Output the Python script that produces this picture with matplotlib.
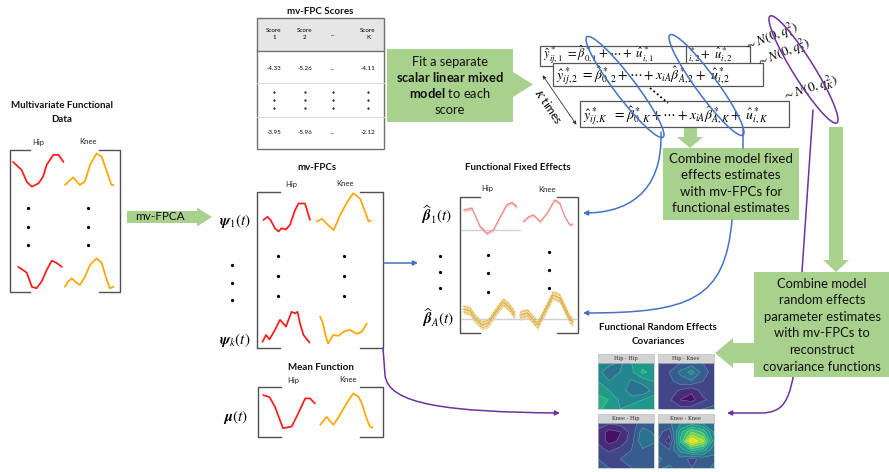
import numpy as np
import matplotlib
matplotlib.use("Agg")
import matplotlib.pyplot as plt
from matplotlib.patches import Polygon, Rectangle, Ellipse, FancyArrowPatch
from matplotlib.path import Path

plt.rcParams['font.family'] = ['Lato', 'DejaVu Sans']
plt.rcParams['mathtext.fontset'] = 'stix'
plt.rcParams['mathtext.bf'] = 'Lato:bold'
plt.rcParams['mathtext.rm'] = 'Lato'
plt.rcParams['mathtext.it'] = 'Lato:italic'

W, H = 889, 472

# ---- curve data (t in % of cell width, v in % of cell height) ----
data_hip1_t = [0, 10, 17, 27, 37, 50, 59, 66, 79, 89, 99]
data_hip1_v = [76, 63, 54, 22, 9, 18, 36, 68, 95, 95, 76]
data_knee1_t = [2, 12, 18, 31, 41, 51, 64, 74, 84, 93, 97]
data_knee1_v = [8, 21, 28, 8, 17, 61, 91, 82, 43, 8, 8]
data_hipn_t = [10, 20, 27, 37, 46, 56, 66, 76, 86, 96]
data_hipn_v = [68, 59, 52, 14, 10, 28, 59, 85, 78, 68]
data_kneen_t = [2, 8, 15, 22, 31, 41, 51, 64, 74, 84, 90, 97]
data_kneen_v = [14, 28, 37, 28, 19, 41, 73, 91, 78, 32, 10, 14]

psi1_hip_t = [3, 11, 17, 26, 33, 39, 48, 56, 66, 73, 86, 96]
psi1_hip_v = [43, 52, 43, 19, 10, 19, 16, 29, 71, 90, 90, 43]
psi1_knee_t = [3, 12, 23, 33, 44, 55, 67, 79, 88, 94, 98]
psi1_knee_v = [30, 36, 22, 11, 44, 70, 93, 81, 52, 30, 32]
psik_hip_t = [1, 8, 15, 26, 36, 48, 59, 66, 71, 76, 83, 95]
psik_hip_v = [8, 25, 14, 38, 63, 46, 83, 79, 83, 54, 25, 6]
psik_knee_t = [9, 14, 19, 23, 32, 41, 50, 61, 73, 82, 91]
psik_knee_v = [71, 54, 21, 4, 25, 23, 33, 38, 28, 33, 54]

mean_hip_t = [2, 14, 24, 33, 39, 55, 67, 80, 89, 98]
mean_hip_v = [88, 83, 60, 29, 9, 13, 44, 80, 80, 68]
mean_knee_t = [4, 15, 27, 35, 50, 62, 71, 77, 85, 91, 96]
mean_knee_v = [17, 36, 17, 33, 68, 92, 84, 68, 33, 13, 10]

beta1_hip_t = [3, 17, 31, 43, 54, 66, 77, 86, 94]
beta1_hip_v = [68, 73, 25, 7, 16, 51, 82, 88, 77]
beta1_knee_t = [6, 15, 24, 36, 48, 62, 71, 80, 89, 94]
beta1_knee_v = [35, 47, 51, 35, 55, 88, 80, 47, 27, 29]
betaA_hip_t = [2, 14, 22, 34, 45, 60, 71, 81, 91]
betaA_hip_v = [62, 57, 38, 19, 24, 59, 81, 68, 46]
betaA_knee_t = [3, 16, 24, 34, 50, 60, 72, 90, 95]
betaA_knee_v = [40, 45, 33, 17, 60, 88, 81, 29, 24]
beta1_hip_zero = 16
betaA_hip_zero = 35
betaA_knee_zero = 31

# ---- score table ----
score_header = ['Score\n1', 'Score\n2', '...', 'Score\nK']
score_first = ['-4.33', '-5.26', '...', '-4.11']
score_last = ['-3.95', '-5.96', '...', '-2.12']

# ---- covariance surfaces (rows top -> bottom) ----
cov_hip_hip = [[0.50, 0.45, 0.40, 0.50, 0.55, 0.50],
               [0.45, 0.35, 0.42, 0.48, 0.60, 0.55],
               [0.50, 0.42, 0.48, 0.40, 0.45, 0.50],
               [0.55, 0.50, 0.45, 0.38, 0.35, 0.45],
               [0.62, 0.58, 0.48, 0.45, 0.50, 0.55],
               [0.60, 0.55, 0.50, 0.55, 0.58, 0.50]]
cov_hip_knee = [[0.22, 0.20, 0.25, 0.28, 0.25, 0.22],
                [0.20, 0.25, 0.35, 0.45, 0.30, 0.20],
                [0.18, 0.22, 0.30, 0.32, 0.25, 0.18],
                [0.20, 0.22, 0.15, 0.10, 0.20, 0.22],
                [0.22, 0.18, 0.08, 0.05, 0.15, 0.20],
                [0.25, 0.22, 0.20, 0.22, 0.25, 0.28]]
cov_knee_hip = [[0.20, 0.18, 0.20, 0.22, 0.28, 0.30],
                [0.15, 0.05, 0.08, 0.20, 0.38, 0.32],
                [0.15, 0.05, 0.10, 0.22, 0.40, 0.35],
                [0.20, 0.15, 0.20, 0.25, 0.32, 0.28],
                [0.25, 0.22, 0.25, 0.28, 0.30, 0.25],
                [0.28, 0.25, 0.22, 0.25, 0.28, 0.30]]
cov_knee_knee = [[0.30, 0.32, 0.40, 0.45, 0.40, 0.32],
                 [0.28, 0.20, 0.55, 0.75, 0.65, 0.40],
                 [0.25, 0.12, 0.60, 1.00, 0.85, 0.45],
                 [0.30, 0.25, 0.45, 0.60, 0.55, 0.35],
                 [0.35, 0.30, 0.30, 0.22, 0.28, 0.32],
                 [0.32, 0.35, 0.30, 0.25, 0.30, 0.35]]
cov_titles = ['Hip - Hip', 'Hip - Knee', 'Knee - Hip', 'Knee - Knee']

GREEN = '#a9d18e'
BLUE = '#4472c4'
PURPLE = '#7030a0'
RED = '#ff1a1a'
ORANGE = '#ffa500'
BRK = '#505050'

fig = plt.figure(figsize=(W / 100, H / 100), dpi=100)
ax = fig.add_axes([0, 0, 1, 1])
ax.set_xlim(0, W)
ax.set_ylim(H, 0)
ax.axis('off')


def cell_axes(x0, x1, y0, y1):
    a = fig.add_axes([x0 / W, 1 - y1 / H, (x1 - x0) / W, (y1 - y0) / H])
    a.set_xlim(0, 100)
    a.set_ylim(0, 100)
    a.axis('off')
    return a


def curve(box, t, v, color, lw=1.25):
    a = cell_axes(*box)
    a.plot(t, v, color=color, lw=lw, solid_joinstyle='round', solid_capstyle='round', clip_on=False)
    return a


def band(box, t, v, fill, line, half, zero=None, dashed=False):
    a = cell_axes(*box)
    v = np.array(v, dtype=float)
    if zero is not None:
        a.axhline(zero, color='#d0d0d0', lw=1.0)
    a.fill_between(t, v - half, v + half, color=fill, alpha=0.55, lw=0)
    a.plot(t, v, color=line, lw=0.7)
    if dashed:
        a.plot(t, v - half * 0.55, color=line, lw=0.5, ls='--')
        a.plot(t, v + half * 0.55, color=line, lw=0.5, ls='--')
    for c in a.collections + a.lines:
        c.set_clip_on(False)
    return a


def bracket(x, y0, y1, serif):
    ax.plot([x + serif, x, x, x + serif], [y0, y0, y1, y1], color=BRK, lw=1.0,
            solid_joinstyle='round')


def dots(x, ys, size=1.8):
    ax.scatter([x] * len(ys), ys, s=size, color='black', zorder=5)


def poly(pts, color=GREEN, z=2):
    ax.add_patch(Polygon(pts, closed=True, facecolor=color, edgecolor='none', zorder=z))


def curved(verts, codes, color, z=9):
    p = FancyArrowPatch(path=Path(verts, codes), arrowstyle='-|>', mutation_scale=7,
                        color=color, lw=1.1, zorder=z, shrinkA=0, shrinkB=0)
    ax.add_patch(p)


title_kw = dict(ha='center', va='center', fontsize=7, fontweight='bold', color='#111111')
lab_kw = dict(ha='center', va='center', fontsize=5.5, color='#222222')

# ---- Multivariate functional data ----
ax.text(62, 105, 'Multivariate Functional', **title_kw)
ax.text(62, 120, 'Data', **title_kw)
ax.text(38, 143, 'Hip', **lab_kw)
ax.text(88, 142, 'Knee', **lab_kw)
bracket(10, 150, 292, 20)
bracket(120, 150, 292, -21)
curve((13, 64, 153, 190), data_hip1_t, data_hip1_v, RED)
curve((64, 115, 150, 188), data_knee1_t, data_knee1_v, ORANGE)
curve((13, 64, 255, 292), data_hipn_t, data_hipn_v, RED)
curve((64, 115, 255, 292), data_kneen_t, data_kneen_v, ORANGE)
for xx in (28, 88):
    dots(xx, [208, 227, 245])

# mv-FPCA arrow
poly([(127, 211), (197, 211), (197, 207.5), (212, 217), (197, 226.5), (197, 223), (127, 223)])
ax.text(160, 217, 'mv-FPCA', ha='center', va='center', fontsize=8.5, color='#111111')

# ---- mv-FPCs ----
ax.text(317, 168, 'mv-FPCs', **title_kw)
ax.text(291, 185, 'Hip', **lab_kw)
ax.text(345, 183, 'Knee', **lab_kw)
bracket(257, 192, 348, 23)
bracket(383, 192, 348, -23)
ax.text(235, 221, r'$\boldsymbol{\psi}_1(t)$', ha='center', va='center', fontsize=11)
ax.text(235, 340, r'$\boldsymbol{\psi}_k(t)$', ha='center', va='center', fontsize=11)
dots(232, [265, 283, 300])
dots(278, [256, 276, 296])
dots(344, [256, 276, 296])
curve((262, 312, 200, 235), psi1_hip_t, psi1_hip_v, RED)
curve((315, 372, 190, 235), psi1_knee_t, psi1_knee_v, ORANGE)
curve((262, 312, 305, 345), psik_hip_t, psik_hip_v, RED)
curve((315, 372, 305, 345), psik_knee_t, psik_knee_v, ORANGE)

# ---- Mean function ----
ax.text(321, 368, 'Mean Function', **title_kw)
ax.text(293, 381, 'Hip', **lab_kw)
ax.text(348, 380, 'Knee', **lab_kw)
bracket(258, 387, 437, 23)
bracket(383, 387, 437, -23)
ax.text(235, 417, r'$\boldsymbol{\mu}(t)$', ha='center', va='center', fontsize=11)
curve((262, 316, 390, 432), mean_hip_t, mean_hip_v, RED)
curve((318, 375, 390, 432), mean_knee_t, mean_knee_v, ORANGE)

# ---- score table ----
ax.text(320, 11, 'mv-FPC Scores', **title_kw)
ax.add_patch(Rectangle((257, 18), 127, 33, facecolor='#e7e6e6', edgecolor='none', zorder=1))
ax.add_patch(Rectangle((257, 18), 127, 131, facecolor='none', edgecolor='#707070', lw=1.0, zorder=3))
ax.plot([257, 384], [51, 51], color='#707070', lw=1.0, zorder=3)
for yy in (83, 117):
    ax.plot([257, 384], [yy, yy], color='#d8d8d8', lw=0.7, zorder=3)
col_x = [274, 305, 333, 368]
for xx, hd, a, b in zip(col_x, score_header, score_first, score_last):
    ax.text(xx, 34, hd, ha='center', va='center', fontsize=4.5, linespacing=1.3)
    ax.text(xx, 68, a, ha='center', va='center', fontsize=4.5)
    ax.text(xx, 133, b, ha='center', va='center', fontsize=4.5)
    dots(xx, [92, 100, 108], size=0.3)

# ---- fit mixed model arrow ----
poly([(387, 49), (513, 49), (513, 72), (533, 84.5), (513, 97), (513, 122), (387, 122)])
fit_kw = dict(ha='center', va='center', fontsize=9.3, color='#111111')
ax.text(450, 62, 'Fit a separate', **fit_kw)
ax.text(450, 77, r'$\mathbf{scalar\ linear\ mixed}$', math_fontfamily='custom', **fit_kw)
ax.text(450, 93, r'$\mathbf{model}$ to each', math_fontfamily='custom', **fit_kw)
ax.text(450, 110, 'score', **fit_kw)

# ---- equations ----
eq_kw = dict(ha='left', va='baseline', fontsize=10)
ax.add_patch(Rectangle((540, 46), 210, 20, facecolor='white', edgecolor='#555555', lw=0.9, zorder=3))
ax.plot([686, 686], [46, 66], color='#555555', lw=0.9, zorder=3)
ax.text(543, 58, r'$\hat{y}^*_{ij,1}\ =\hat{\beta}^*_{0,1}+\cdots+\ \hat{u}^*_{i,1}$', zorder=4,
        ha='left', va='baseline', fontsize=9)
ax.text(688, 58, r'$^*_{i,2}+\ \hat{u}^*_{i,2}$', zorder=4, ha='left', va='baseline', fontsize=9)
ax.add_patch(Rectangle((553, 63), 210, 23, facecolor='white', edgecolor='#555555', lw=0.9, zorder=5))
ax.text(556, 79, r'$\hat{y}^*_{ij,2}\ =\hat{\beta}^*_{0,2}+\cdots+x_{iA}\hat{\beta}^*_{A,2}+\ \hat{u}^*_{i,2}$',
        zorder=6, **eq_kw)
ax.add_patch(Rectangle((580, 101), 209, 26, facecolor='white', edgecolor='#555555', lw=0.9, zorder=5))
ax.text(583, 119, r'$\hat{y}^*_{ij,K}\ \ =\hat{\beta}^*_{0,K}+\cdots+x_{iA}\hat{\beta}^*_{A,K}+\ \hat{u}^*_{i,K}$',
        zorder=6, **eq_kw)
nk = dict(ha='left', va='bottom', fontsize=9.5, rotation_mode='anchor', zorder=7)
ax.text(749, 56, r'$\sim N(0,q_1^2)$', rotation=22, **nk)
ax.text(761, 72, r'$\sim N(0,q_2^2)$', rotation=22, **nk)
ax.text(786, 106, r'$\sim N(0,q_K^2)$', rotation=18, **nk)
ax.plot([650, 668], [88, 103], color='black', lw=1.3, ls=(0, (1, 1.5)), zorder=6)
ax.annotate('', xy=(578, 127), xytext=(541, 73),
            arrowprops=dict(arrowstyle='<|-|>', color='#333333', lw=0.6, mutation_scale=5), zorder=6)
ax.text(549, 106, r'$K$ times', rotation=-56, ha='center', va='center', fontsize=8.5, zorder=6)

# ellipses
ax.add_patch(Ellipse((625, 87), 126, 21, angle=52.8, fill=False, edgecolor=BLUE, lw=1.1, zorder=8))
ax.add_patch(Ellipse((706.5, 85), 124, 21, angle=53.9, fill=False, edgecolor=BLUE, lw=1.1, zorder=8))
ax.add_patch(Ellipse((803.5, 69.5), 126, 21, angle=58, fill=False, edgecolor=PURPLE, lw=1.1, zorder=8))

# green arrows near equations
poly([(684, 127), (697, 127), (697, 137), (703, 137), (690, 148), (677, 137), (684, 137)], z=4)
poly([(829, 127), (843, 127), (843, 260), (849, 260), (836, 272), (823, 260), (829, 260)], z=4)

# fixed-effects combine box
ax.add_patch(Rectangle((663, 148), 136, 72, facecolor=GREEN, edgecolor='none', zorder=4))
for yy, s in zip([159, 175, 192, 208], ['Combine model fixed', 'effects estimates',
                                       'with mv-FPCs for', 'functional estimates']):
    ax.text(731, yy, s, ha='center', va='center', fontsize=9.5, color='#111111', zorder=5)

# random-effects combine box
ax.add_patch(Rectangle((754, 272), 135, 105, facecolor=GREEN, edgecolor='none', zorder=10))
for yy, s in zip([284, 300, 317, 333, 350, 367], ['Combine model', 'random effects',
                                                 'parameter estimates', 'with mv-FPCs to',
                                                 'reconstruct', 'covariance functions']):
    ax.text(822, yy, s, ha='center', va='center', fontsize=9.4, color='#111111', zorder=11)
poly([(754, 343), (733, 343), (733, 338), (715, 353), (733, 368), (733, 363), (754, 363)], z=10)

# blue connectors
ax.plot([743, 743], [128, 148], color=BLUE, lw=1.1, zorder=8)
curved([(661, 132), (663, 195), (625, 213), (583, 213)],
       [Path.MOVETO, Path.CURVE4, Path.CURVE4, Path.CURVE4], BLUE)
curved([(732, 220), (725, 300), (690, 313), (583, 313)],
       [Path.MOVETO, Path.CURVE4, Path.CURVE4, Path.CURVE4], BLUE)
ax.annotate('', xy=(418, 263), xytext=(384, 263),
            arrowprops=dict(arrowstyle='-|>', color=BLUE, lw=1.1, mutation_scale=7,
                            shrinkA=0, shrinkB=0))

# purple connectors
curved([(813, 110), (796, 360), (790, 400), (785, 413), (760, 413), (727, 413)],
       [Path.MOVETO, Path.LINETO, Path.CURVE4, Path.CURVE4, Path.CURVE4, Path.LINETO], PURPLE, z=9)
curved([(383, 348), (385, 375), (388, 405), (450, 412), (560, 413)],
       [Path.MOVETO, Path.LINETO, Path.CURVE4, Path.CURVE4, Path.CURVE4], PURPLE)

# ---- functional fixed effects ----
ax.text(518, 168, 'Functional Fixed Effects', **title_kw)
ax.text(487, 189, 'Hip', **lab_kw)
ax.text(547, 189, 'Knee', **lab_kw)
bracket(460, 197, 333, 20)
bracket(578, 197, 333, -21)
ax.text(436, 215, r'$\widehat{\boldsymbol{\beta}}_1(t)$', ha='center', va='center', fontsize=11)
ax.text(438, 318, r'$\widehat{\boldsymbol{\beta}}_A(t)$', ha='center', va='center', fontsize=11)
dots(440, [256, 272, 288])
dots(488, [255, 273, 292])
dots(549, [252, 270, 288])
band((462, 520, 198, 236), beta1_hip_t, beta1_hip_v, '#f4a6a6', '#f07f7f', 5, zero=beta1_hip_zero)
band((520, 576, 195, 236), beta1_knee_t, beta1_knee_v, '#f4a6a6', '#f07f7f', 4)
band((462, 520, 295, 332), betaA_hip_t, betaA_hip_v, '#ebc063', '#d9a530', 13,
     zero=betaA_hip_zero, dashed=True)
band((518, 576, 290, 332), betaA_knee_t, betaA_knee_v, '#ebc063', '#d9a530', 12,
     zero=betaA_knee_zero, dashed=True)

# ---- covariance panels ----
ax.text(658, 328, 'Functional Random Effects', **title_kw)
ax.text(658, 341, 'Covariances', **title_kw)
cov_boxes = [(598, 654, 363, 409), (658, 714, 363, 409), (598, 654, 423, 468), (658, 714, 423, 468)]
for box, grid, ttl in zip(cov_boxes, [cov_hip_hip, cov_hip_knee, cov_knee_hip, cov_knee_knee], cov_titles):
    x0, x1, y0, y1 = box
    ax.add_patch(Rectangle((x0, y0 - 9), x1 - x0, 9, facecolor='#d3d3d3', edgecolor='#bdbdbd',
                           lw=0.5, zorder=3))
    ax.text((x0 + x1) / 2, y0 - 4.5, ttl, ha='center', va='center', fontsize=3.6,
            family='DejaVu Serif', color='#333333', zorder=4)
    ca = fig.add_axes([x0 / W, 1 - y1 / H, (x1 - x0) / W, (y1 - y0) / H])
    z = np.array(grid)
    ca.contourf(z, levels=np.linspace(0, 1, 13), cmap='viridis', vmin=0, vmax=1, origin='upper')
    ca.contour(z, levels=np.linspace(0, 1, 13), colors='white', linewidths=0.3, alpha=0.35, origin='upper')
    ca.set_xticks([])
    ca.set_yticks([])
    for sp in ca.spines.values():
        sp.set_color('#bdbdbd')
        sp.set_linewidth(0.5)

fig.savefig('out.png', dpi=100)
